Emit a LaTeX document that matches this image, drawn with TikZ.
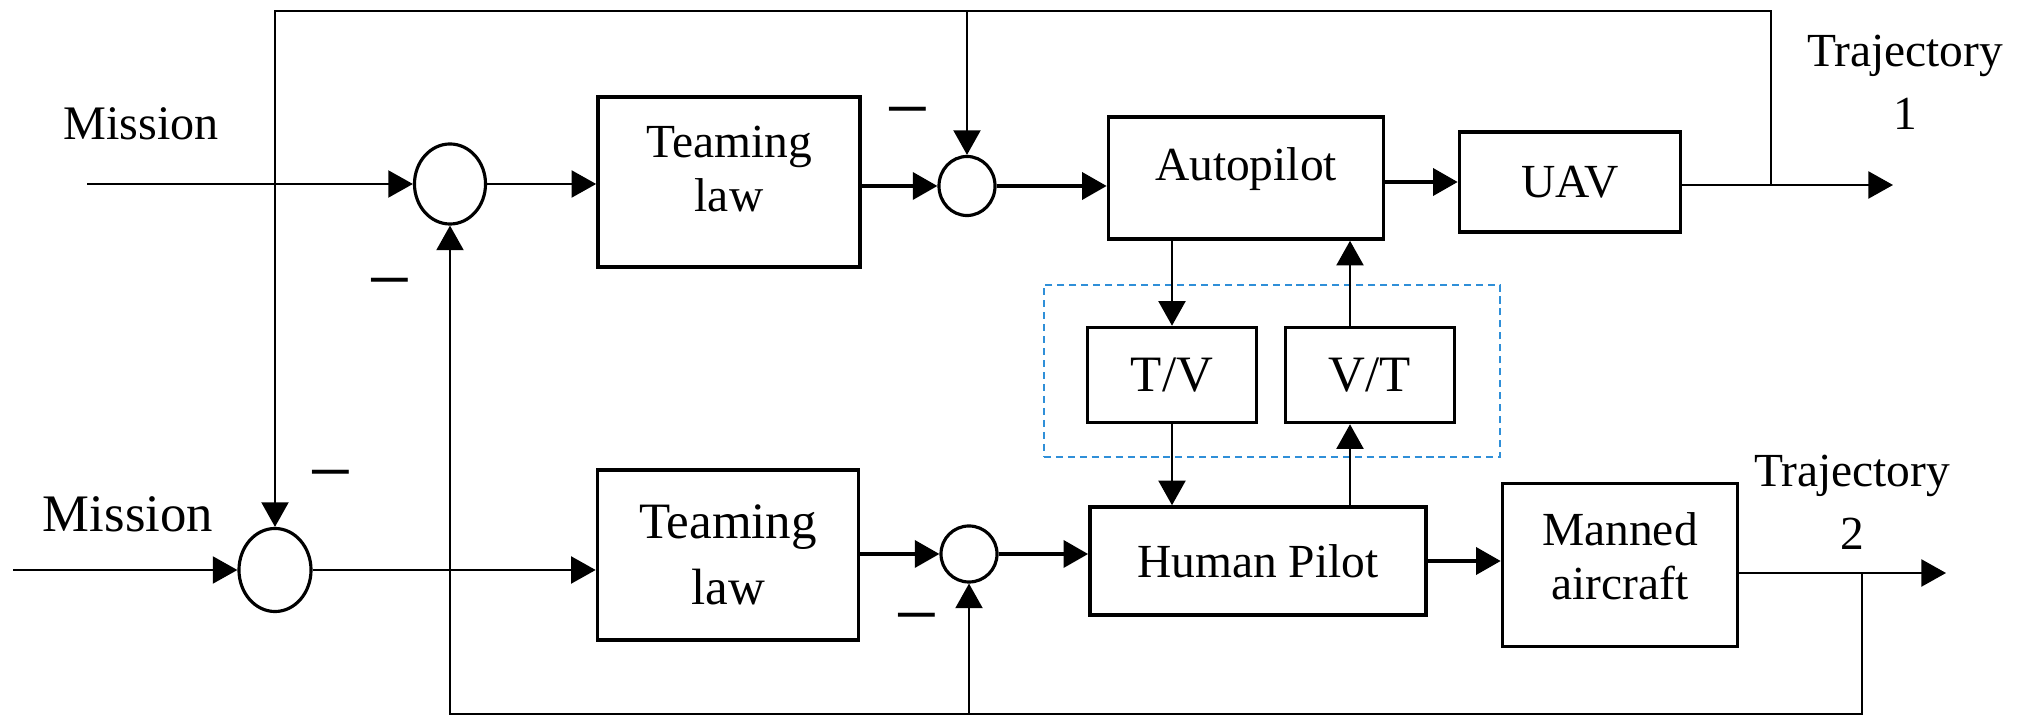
\documentclass[tikz,border=0pt]{standalone}
\usepackage{fontspec}
\setmainfont{Liberation Serif}
\usepackage{tikz}
\usetikzlibrary{arrows.meta,shapes.geometric}
\definecolor{TMInk}{HTML}{000000}
\definecolor{TMBlue}{HTML}{2F8FD8}
\newcommand{\fontsm}{\fontsize{13.5}{15.4}\selectfont}
\newcommand{\fontlg}{\fontsize{14.5}{18.8}\selectfont}
\newcommand{\fonttr}{\fontsize{13.5}{18}\selectfont}
\newcommand{\fontmi}{\fontsize{22.5}{22.5}\selectfont}

\begin{document}
\begin{tikzpicture}[x=0.01cm,y=-0.01cm,
  blk/.style={draw=TMInk, line width=1pt, align=center, inner sep=0pt, font=\fontsm},
  sum/.style={draw=TMInk, ellipse, line width=0.9pt, inner sep=0pt},
  wire/.style={draw=TMInk, line width=0.55pt, -{Triangle[length=7pt,width=7.7pt]}},
  wirebold/.style={wire, line width=1pt},
  fbline/.style={draw=TMInk, line width=0.55pt},
  minussign/.style={anchor=base, inner sep=0pt, font=\fontmi},
  grp/.style={draw=TMBlue, line width=0.6pt, dash pattern=on 2pt off 1.4pt, inner sep=0pt}]
  \useasboundingbox (0,0) rectangle (2018,716);

  \node[sum, minimum width=0.71cm, minimum height=0.80cm] (sumA) at (450,184) {};
  \node[sum, minimum width=0.56cm, minimum height=0.59cm] (sumB) at (967,186) {};
  \node[sum, minimum width=0.56cm, minimum height=0.56cm] (sumC) at (969,554) {};
  \node[sum, minimum width=0.72cm, minimum height=0.83cm] (sumD) at (275,570) {};

  \node[blk, minimum width=2.62cm, minimum height=1.70cm, text depth=0.26cm] (teamA) at (729,182) {Teaming\\law};
  \node[blk, minimum width=2.61cm, minimum height=1.70cm, font=\fontlg] (teamB) at (728,555) {Teaming\\law};
  \node[blk, minimum width=2.75cm, minimum height=1.22cm, text depth=0.28cm] (auto) at (1246,178) {Autopilot};
  \node[blk, minimum width=2.21cm, minimum height=1.00cm] (uav) at (1570,182) {UAV};
  \node[blk, minimum width=1.69cm, minimum height=0.95cm, font=\fontlg] (tv) at (1172,375) {T/V};
  \node[blk, minimum width=1.69cm, minimum height=0.95cm, font=\fontlg] (vt) at (1370,375) {V/T};
  \node[blk, minimum width=3.36cm, minimum height=1.08cm] (pilot) at (1258,561) {Human Pilot};
  \node[blk, minimum width=2.35cm, minimum height=1.63cm, text depth=0.18cm, font=\fontsize{13.5}{15.1}\selectfont] (manned) at (1620,565) {Manned\\aircraft};
  \node[grp, minimum width=4.56cm, minimum height=1.72cm] (xlate) at (1272,371) {};

  \node[anchor=base, font=\fontsize{13.7}{16}\selectfont] (msnA) at (141,140) {Mission};
  \node[anchor=base, font=\fontsize{15}{18}\selectfont] (msnB) at (128,532) {Mission};
  \node[align=center, font=\fonttr] (trjA) at (1905,82) {Trajectory\\1};
  \node[align=center, font=\fonttr] (trjB) at (1852,502) {Trajectory\\2};

  \node[minussign] (mA) at (390,307) {−};
  \node[minussign] (mB) at (908,136) {−};
  \node[minussign] (mC) at (917,642) {−};
  \node[minussign] (mD) at (331,499) {−};

  \coordinate (inA) at (87,184);
  \coordinate (inB) at (13,570);
  \coordinate (outA) at (1893,185);
  \coordinate (outB) at (1946,573);
  \coordinate (fbTop) at (1771,11);
  \coordinate (fbBot) at (1862,714);
  \coordinate (vtx) at (1350,0);

  \draw[wire] (inA) -- (sumA);
  \draw[wire] (sumA) -- (sumA -| teamA.west);
  \draw[wirebold] (teamA.east |- sumB) -- (sumB);
  \draw[wirebold] (sumB) -- (sumB -| auto.west);
  \draw[wirebold] (auto.east |- uav) -- (uav);
  \draw[wire] (uav.east |- outA) -- (outA);
  \draw[wire] (fbTop |- outA) -- (fbTop) -| (sumD);
  \draw[wire] (fbTop -| sumB) -- (sumB);

  \draw[wire] (inB) -- (sumD);
  \draw[wire] (sumD) -- (sumD -| teamB.west);
  \draw[wirebold] (teamB.east |- sumC) -- (sumC);
  \draw[wirebold] (sumC) -- (sumC -| pilot.west);
  \draw[wirebold] (pilot) -- (pilot -| manned.west);
  \draw[wire] (manned.east |- outB) -- (outB);
  \draw[wire] (fbBot |- outB) -- (fbBot) -| (sumA);
  \draw[wire] (fbBot -| sumC) -- (sumC);

  \draw[wire] (auto.south -| tv) -- (tv);
  \draw[wire] (tv) -- (tv |- pilot.north);
  \draw[wire] (pilot.north -| vtx) -- (vt.south -| vtx);
  \draw[wire] (vt.north -| vtx) -- (auto.south -| vtx);
\end{tikzpicture}
\end{document}
